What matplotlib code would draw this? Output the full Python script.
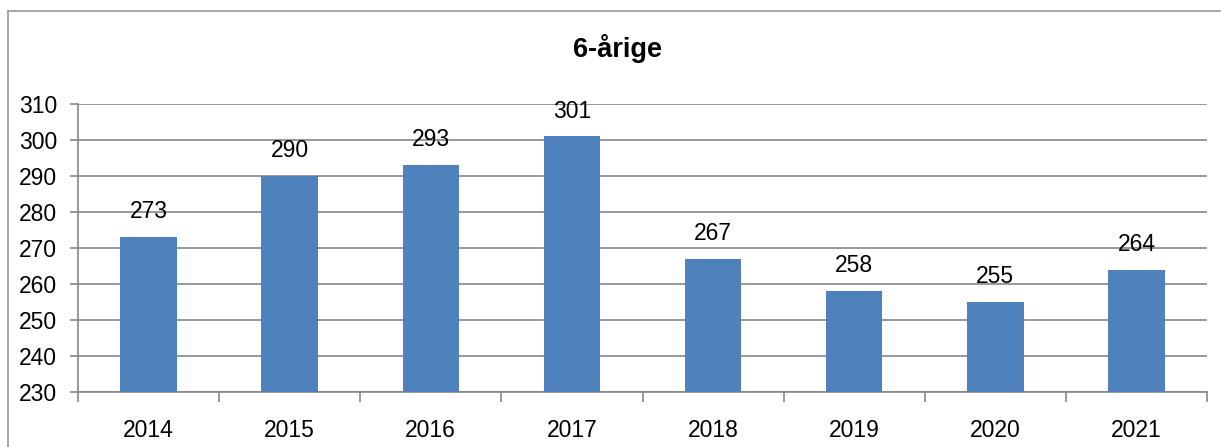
import numpy as np
import matplotlib
matplotlib.use('Agg')
from matplotlib import pyplot as plt
from matplotlib.lines import Line2D

plt.rcParams['font.family'] = ['Liberation Sans', 'DejaVu Sans']

years = ['2014', '2015', '2016', '2017', '2018', '2019', '2020', '2021']
values = [273, 290, 293, 301, 267, 258, 255, 264]
title = '6-årige'

W, H = 1221, 447
fig = plt.figure(figsize=(W/100, H/100), dpi=100)
# plot area in pixels: left 78, right 1207, top 104, bottom 392
ax = fig.add_axes([78/W, 1-392/H, (1207-78)/W, (392-104)/H])

grey = '#868686'
fs = 16.5
x = np.arange(len(years))
ax.bar(x, values, width=0.40, color='#4F81BD', bottom=0, zorder=3)
ax.set_ylim(230, 310)
ax.set_xlim(-0.5, len(years)-0.5)
ax.set_yticks(np.arange(230, 311, 10))
ax.yaxis.grid(True, color=grey, linewidth=1.2, zorder=0)
ax.set_xticks(x)
ax.set_xticklabels(years)
ax.set_xticks(np.arange(-0.5, len(years), 1), minor=True)
ax.tick_params(axis='x', which='major', length=0, pad=19.5, labelsize=fs)
ax.tick_params(axis='x', which='minor', length=7, color=grey, width=1.2)
ax.tick_params(axis='y', length=6, color=grey, width=1.2, labelsize=fs, pad=9)
for s in ['top', 'right']:
    ax.spines[s].set_visible(False)
for s in ['left', 'bottom']:
    ax.spines[s].set_color(grey)
    ax.spines[s].set_linewidth(1.2)

for xi, v in zip(x, values):
    ax.annotate(str(v), (xi, v), xytext=(0, 10), textcoords='offset points',
                ha='center', va='bottom', fontsize=fs, zorder=4)

fig.text(618/W, 1-57/H, title, ha='center', va='baseline', fontsize=19.5, fontweight='bold')

# chart border (top and left visible)
fig.add_artist(Line2D([8/W, 8/W], [0, 1-11/H], transform=fig.transFigure, color='#A0A0A0', linewidth=1.3))
fig.add_artist(Line2D([8/W, 1], [1-11/H, 1-11/H], transform=fig.transFigure, color='#A0A0A0', linewidth=1.3))

fig.savefig('out.png', dpi=100)
